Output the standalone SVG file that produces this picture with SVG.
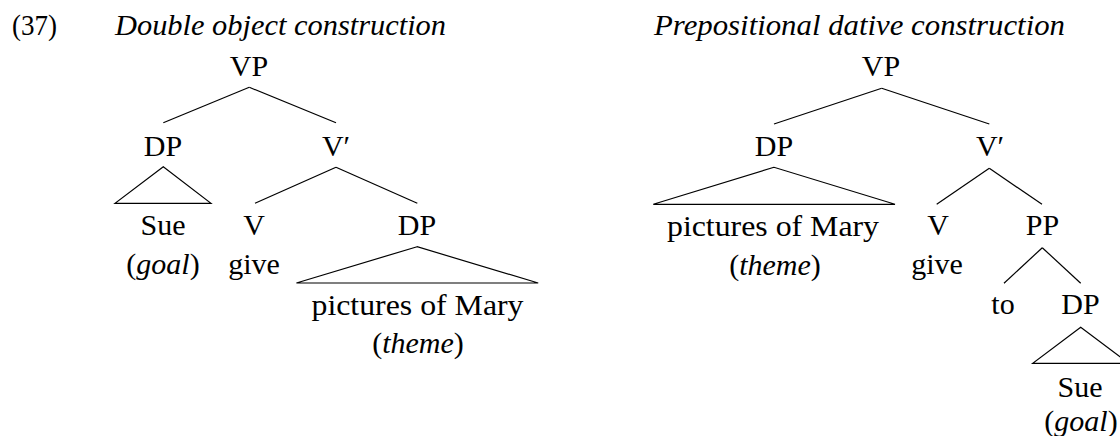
<svg xmlns="http://www.w3.org/2000/svg" width="1120" height="436" viewBox="0 0 1120 436" font-family="'Liberation Serif', 'DejaVu Serif', serif" font-size="30">
  <style>
    text { font-family: 'Liberation Serif', 'DejaVu Serif', serif; font-size: 30px; fill: #000; }
    .c { text-anchor: middle; }
    .it { font-style: italic; }
    .edge { stroke: #000; stroke-width: 1.2; fill: none; }
  </style>
  <rect width="1120" height="436" fill="#fff"/>

  <!-- example number and titles -->
  <g id="heading">
    <text x="12" y="35" textLength="45" lengthAdjust="spacingAndGlyphs">(37)</text>
    <text x="115" y="35" class="it" textLength="331" lengthAdjust="spacingAndGlyphs">Double object construction</text>
    <text x="654" y="35" class="it" textLength="411" lengthAdjust="spacingAndGlyphs">Prepositional dative construction</text>
  </g>

  <!-- branches and roof triangles -->
  <g id="connectors">
    <!-- double object tree -->
    <line class="edge" x1="249.3" y1="87.3" x2="163.3" y2="122.7"/>
    <line class="edge" x1="249.3" y1="87.3" x2="336" y2="122.7"/>
    <polygon class="edge" points="163.3,166.7 115,203.3 211,203.3"/>
    <line class="edge" x1="336" y1="167.3" x2="255" y2="203.3"/>
    <line class="edge" x1="336" y1="167.3" x2="417.3" y2="203.3"/>
    <polygon class="edge" points="417.1,246.7 296.4,283 538.2,283"/>
    <!-- prepositional dative tree -->
    <line class="edge" x1="881.7" y1="88.3" x2="774" y2="124"/>
    <line class="edge" x1="881.7" y1="88.3" x2="989.3" y2="124"/>
    <polygon class="edge" points="774,167.3 653.3,204.3 895,204.3"/>
    <line class="edge" x1="989.3" y1="168.3" x2="936.7" y2="204.3"/>
    <line class="edge" x1="989.3" y1="168.3" x2="1042" y2="204.3"/>
    <line class="edge" x1="1042.3" y1="247.7" x2="1004" y2="283.3"/>
    <line class="edge" x1="1042.3" y1="247.7" x2="1080.7" y2="283.3"/>
    <polygon class="edge" points="1080.7,327.3 1032.7,363.3 1128.7,363.3"/>
  </g>

  <!-- double object tree nodes -->
  <g id="do-vp"><text class="c" x="249" y="76">VP</text></g>
  <g id="do-dp-goal"><text class="c" x="163" y="156">DP</text></g>
  <g id="do-vbar"><text class="c" x="336" y="156">V′</text></g>
  <g id="do-sue">
    <text class="c" x="163" y="235">Sue</text>
    <text class="c" x="163" y="274">(<tspan class="it">goal</tspan>)</text>
  </g>
  <g id="do-v">
    <text class="c" x="254" y="235">V</text>
    <text class="c" x="254" y="274">give</text>
  </g>
  <g id="do-dp-theme"><text class="c" x="417" y="235">DP</text></g>
  <g id="do-pictures">
    <text class="c" x="417.5" y="315" textLength="212" lengthAdjust="spacingAndGlyphs">pictures of Mary</text>
    <text class="c" x="418" y="353">(<tspan class="it">theme</tspan>)</text>
  </g>

  <!-- prepositional dative tree nodes -->
  <g id="pd-vp"><text class="c" x="881" y="76">VP</text></g>
  <g id="pd-dp-theme"><text class="c" x="774" y="156">DP</text></g>
  <g id="pd-vbar"><text class="c" x="990" y="156">V′</text></g>
  <g id="pd-pictures">
    <text class="c" x="773" y="236" textLength="212" lengthAdjust="spacingAndGlyphs">pictures of Mary</text>
    <text class="c" x="775" y="275">(<tspan class="it">theme</tspan>)</text>
  </g>
  <g id="pd-v">
    <text class="c" x="938" y="235">V</text>
    <text class="c" x="937" y="274">give</text>
  </g>
  <g id="pd-pp"><text class="c" x="1042.5" y="235">PP</text></g>
  <g id="pd-to"><text class="c" x="1003" y="313.5">to</text></g>
  <g id="pd-dp-goal"><text class="c" x="1080.5" y="313.5">DP</text></g>
  <g id="pd-sue">
    <text class="c" x="1080" y="397">Sue</text>
    <text class="c" x="1081" y="431">(<tspan class="it">goal</tspan>)</text>
  </g>
</svg>
